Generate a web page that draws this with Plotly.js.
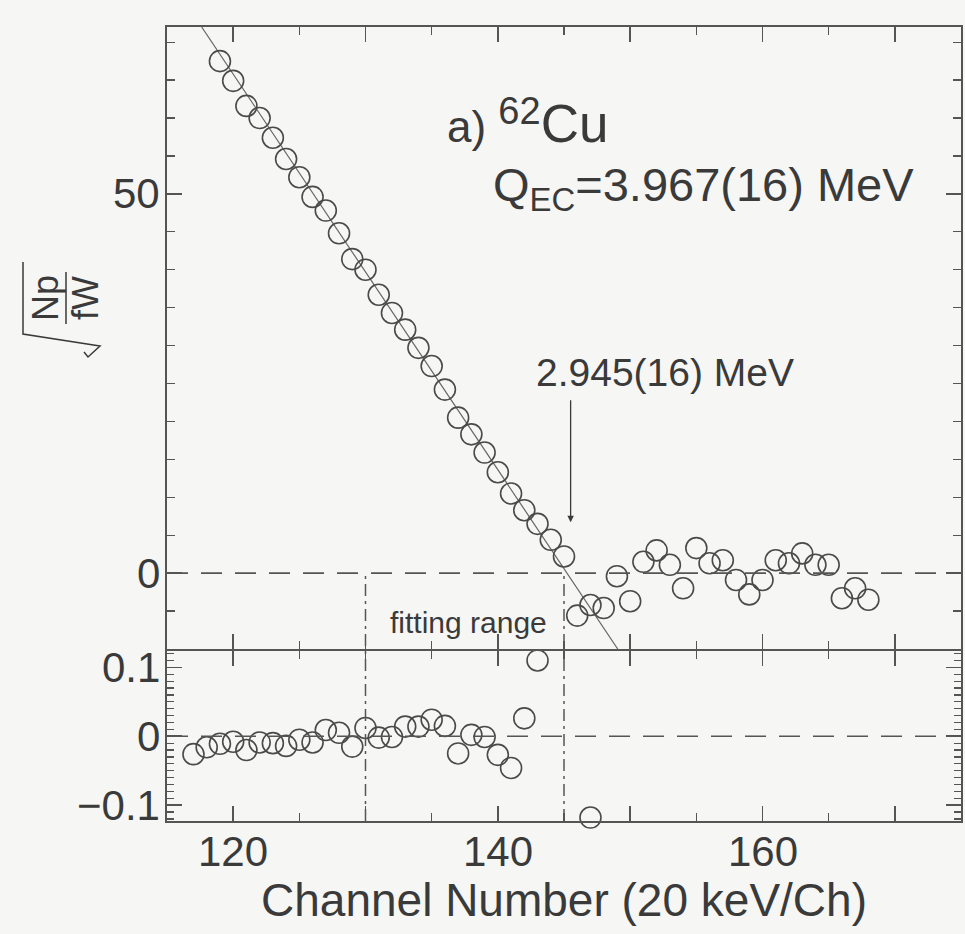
<!DOCTYPE html>
<html>
<head>
<meta charset="utf-8">
<script src="https://cdn.plot.ly/plotly-3.0.1.min.js"></script>
<style>
  html, body { margin: 0; padding: 0; background: #f6f6f4; }
  #chart { width: 965px; height: 934px; }
</style>
</head>
<body>
<div id="chart"></div>
<script>
// ---- data ----
const topChannels = [119,120,121,122,123,124,125,126,127,128,129,130,131,132,133,134,135,136,137,138,139,140,141,142,143,144,145,
                     146,147,148,149,150,151,152,153,154,155,156,157,158,159,160,161,162,163,164,165,166,167,168];
const topValues = [67.5,64.9,61.6,60.0,57.4,54.6,52.2,49.6,47.8,44.8,41.4,40.0,36.7,34.3,32.1,29.7,27.3,24.2,20.5,18.3,15.9,13.3,10.5,8.3,6.5,4.4,2.2,
                   -5.6,-4.2,-4.6,-0.4,-3.7,1.5,3.0,1.1,-2.0,3.3,1.3,1.7,-0.9,-2.8,-0.9,1.7,1.3,2.6,1.1,1.1,-3.3,-2.0,-3.5];

const fitChannels = [117.62, 149.06];
const fitValues = [72.0, -10.0];

const resChannels = [117,118,119,120,121,122,123,124,125,126,127,128,129,130,131,132,133,134,135,136,137,138,139,140,141,142,143,147];
const resValues = [-0.026,-0.016,-0.011,-0.008,-0.020,-0.009,-0.010,-0.014,-0.005,-0.009,0.009,0.005,-0.015,0.012,-0.002,-0.001,0.014,0.014,0.024,0.015,-0.025,0.002,-0.001,-0.027,-0.046,0.026,0.110,-0.118];

const fitRange = [130, 145];
const endpointChannel = 145.5;
const arrowFromTo = [23, 6.7];

const xRange = [115, 175];
const yTopRange = [-10, 72];
const yResRange = [-0.123, 0.124];
const xTickVals = [120,130,140,150,160,170];
const xLabelVals = [120, 140, 160];
const xLabelText = ['120', '140', '160'];
const yTopTickVals = [0, 50];
const yTopTickText = ['0', '50'];
const yResTickVals = [-0.1, 0, 0.1];
const yResTickText = ['\u22120.1', '0', '0.1'];

// ---- styling ----
const INK = '#4a4a4a';
const TXT = '#3a3a3a';
const FONT = 'Liberation Sans, Arial, Helvetica, sans-serif';
const W = 965, H = 934, ML = 167, MR = 4, MT = 27, MB = 113;
const PW = W - ML - MR, PH = H - MT - MB;
const px = x => (x - ML) / PW;
const py = y => (H - MB - y) / PH;
const split = py(649);
const LW = 1.8;
const gap = LW / PH;
const topZeroPaper = split + (0 - yTopRange[0]) / (yTopRange[1] - yTopRange[0]) * (1 - split);

const axisCommon = {
  showline: true, linecolor: '#555', linewidth: LW, mirror: 'ticks',
  ticks: 'inside', ticklen: 15, tickwidth: 1.5, tickcolor: '#555',
  showgrid: false, zeroline: false, showticklabels: false
};
const minorX = { tickmode: 'linear', tick0: 115, dtick: 5, ticks: 'inside', ticklen: 8, tickwidth: 1.3, tickcolor: '#555' };

const traces = [
  { x: fitChannels, y: fitValues, xaxis: 'x', yaxis: 'y', mode: 'lines',
    line: { color: '#666', width: 1.2 } },
  { x: topChannels, y: topValues, xaxis: 'x', yaxis: 'y', mode: 'markers', cliponaxis: false,
    marker: { symbol: 'circle-open', size: 21, color: INK, line: { width: 1.6, color: INK } } },
  { x: resChannels, y: resValues, xaxis: 'x2', yaxis: 'y2', mode: 'markers', cliponaxis: false,
    marker: { symbol: 'circle-open', size: 21, color: INK, line: { width: 1.6, color: INK } } }
];

const DASH = '21px,13px';
const DASHDOT = '12px,5px,3px,5px';
const shapes = [
  { type: 'line', xref: 'paper', yref: 'y', x0: 0, x1: 1, y0: 0, y1: 0,
    line: { color: '#555', width: 1.6, dash: DASH } },
  { type: 'line', xref: 'paper', yref: 'y2', x0: 0, x1: 1, y0: 0, y1: 0,
    line: { color: '#555', width: 1.6, dash: DASH } }
];
fitRange.forEach(c => {
  shapes.push({ type: 'line', xref: 'x', yref: 'paper', x0: c, x1: c, y0: 0, y1: topZeroPaper,
    line: { color: '#555', width: 1.5, dash: DASHDOT } });
});
// radical sign and fraction bar of the rotated y-axis label
const rad = [[84,352],[88,357],[100,346],[23,334],[23,262]];
shapes.push({ type: 'path', xref: 'paper', yref: 'paper',
  path: rad.map((p, i) => (i ? 'L' : 'M') + px(p[0]) + ',' + py(p[1])).join(' '),
  line: { color: TXT, width: 1.5 } });
shapes.push({ type: 'line', xref: 'paper', yref: 'paper', x0: px(66), x1: px(66), y0: py(272), y1: py(324),
  line: { color: TXT, width: 1.5 } });

const tickFont = { family: FONT, size: 42, color: TXT };
const annotations = [
  { xref: 'x', yref: 'y', x: 136.0, y: 59.6, xanchor: 'left', yanchor: 'middle', showarrow: false,
    text: 'a) <sup><span style="font-size:38px">62</span></sup><span style="font-size:53px">Cu</span>',
    font: { family: FONT, size: 44, color: TXT } },
  { xref: 'x', yref: 'y', x: 139.5, y: 50.8, xanchor: 'left', yanchor: 'middle', showarrow: false,
    text: 'Q<sub>EC</sub>=3.967(16) MeV', font: { family: FONT, size: 47, color: TXT } },
  { xref: 'x', yref: 'y', x: 152.6, y: 26.4, xanchor: 'center', yanchor: 'middle', showarrow: false,
    text: '2.945(16) MeV', font: { family: FONT, size: 39, color: TXT } },
  { xref: 'x', yref: 'y', x: endpointChannel, y: arrowFromTo[1], axref: 'x', ayref: 'y',
    ax: endpointChannel, ay: arrowFromTo[0], text: '', showarrow: true,
    arrowhead: 2, arrowsize: 1, arrowwidth: 1.3, arrowcolor: TXT },
  { xref: 'x', yref: 'y', x: 137.75, y: -6.5, xanchor: 'center', yanchor: 'middle', showarrow: false,
    text: 'fitting range', font: { family: FONT, size: 30, color: TXT } },
  { xref: 'paper', yref: 'paper', x: px(45), y: py(298), xanchor: 'center', yanchor: 'middle', showarrow: false,
    text: 'Np', textangle: -90, font: { family: FONT, size: 36, color: TXT } },
  { xref: 'paper', yref: 'paper', x: px(85), y: py(298), xanchor: 'center', yanchor: 'middle', showarrow: false,
    text: 'fW', textangle: -90, font: { family: FONT, size: 36, color: TXT } }
];
// tick labels placed on the axes' own scales
xLabelVals.forEach((v, i) => annotations.push({ xref: 'x2', yref: 'paper', x: v, y: py(851),
  xanchor: 'center', yanchor: 'middle', showarrow: false, text: xLabelText[i], font: tickFont }));
yTopTickVals.forEach((v, i) => annotations.push({ xref: 'paper', yref: 'y', x: px(162), y: v,
  xanchor: 'right', yanchor: 'middle', showarrow: false, text: yTopTickText[i], font: tickFont }));
yResTickVals.forEach((v, i) => annotations.push({ xref: 'paper', yref: 'y2', x: px(162), y: v,
  xanchor: 'right', yanchor: 'middle', showarrow: false, text: yResTickText[i], font: tickFont }));

const layout = {
  width: W, height: H,
  margin: { l: ML, r: MR, t: MT, b: MB },
  paper_bgcolor: '#f6f6f4', plot_bgcolor: '#f6f6f4',
  showlegend: false,
  xaxis: Object.assign({}, axisCommon, {
    domain: [0, 1], anchor: 'y', range: xRange,
    tickmode: 'array', tickvals: xTickVals, minor: minorX
  }),
  xaxis2: Object.assign({}, axisCommon, {
    domain: [0, 1], anchor: 'y2', range: xRange,
    tickmode: 'array', tickvals: xTickVals, minor: minorX,
    title: { text: 'Channel Number (20 keV/Ch)', font: { family: FONT, size: 46, color: TXT }, standoff: 62 }
  }),
  yaxis: Object.assign({}, axisCommon, {
    domain: [split, 1], anchor: 'x', range: yTopRange,
    tickmode: 'array', tickvals: yTopTickVals,
    minor: { tickmode: 'linear', tick0: 0, dtick: 5, ticks: 'inside', ticklen: 8, tickwidth: 1.3, tickcolor: '#555' }
  }),
  yaxis2: Object.assign({}, axisCommon, {
    domain: [0, split - gap], anchor: 'x2', range: yResRange,
    tickmode: 'array', tickvals: yResTickVals,
    minor: { tickmode: 'linear', tick0: 0, dtick: 0.01, ticks: 'inside', ticklen: 7, tickwidth: 1.2, tickcolor: '#555' }
  }),
  shapes: shapes,
  annotations: annotations
};

Plotly.newPlot('chart', traces, layout, { staticPlot: true })
  .then(gd => new Promise(r => setTimeout(() => r(gd), 120)))
  .then(gd => Plotly.relayout(gd, { 'xaxis.ticklen': 15.01, 'xaxis2.ticklen': 15.01, 'yaxis.ticklen': 15.01, 'yaxis2.ticklen': 15.01 }))
  .then(() => { document.body.setAttribute('data-rendered', '1'); });
</script>
</body>
</html>
